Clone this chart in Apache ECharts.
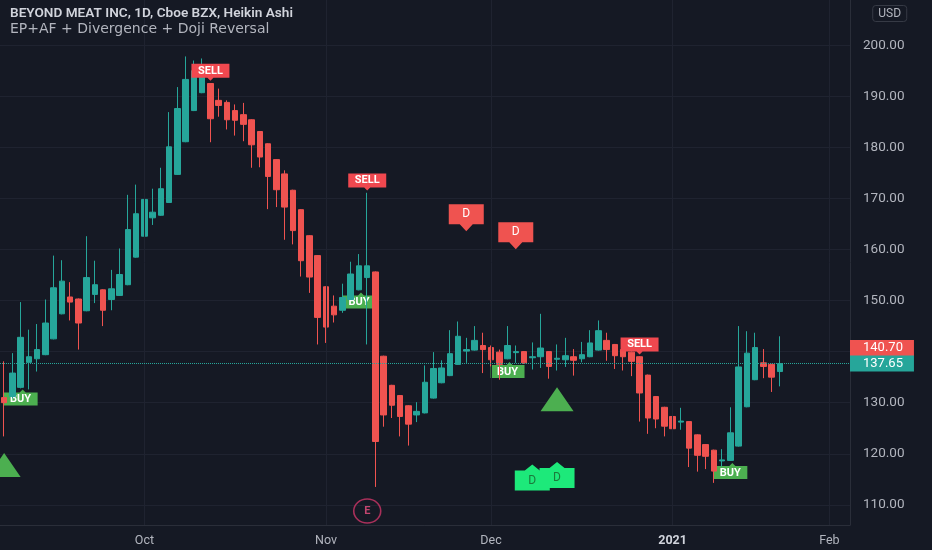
<!DOCTYPE html>
<html>
<head>
<meta charset="utf-8">
<script src="https://cdn.jsdelivr.net/npm/echarts@6/dist/echarts.min.js"></script>
<style>
html,body{margin:0;padding:0;background:#151924;}
#c{width:932px;height:550px;}
</style>
</head>
<body>
<div id="c"></div>
<script>
// ---------- data ----------
const dates = [
'2020-09-08','2020-09-09','2020-09-10','2020-09-11','2020-09-14','2020-09-15','2020-09-16','2020-09-17','2020-09-18',
'2020-09-21','2020-09-22','2020-09-23','2020-09-24','2020-09-25','2020-09-28','2020-09-29','2020-09-30',
'2020-10-01','2020-10-02','2020-10-05','2020-10-06','2020-10-07','2020-10-08','2020-10-09','2020-10-12','2020-10-13',
'2020-10-14','2020-10-15','2020-10-16','2020-10-19','2020-10-20','2020-10-21','2020-10-22','2020-10-23','2020-10-26',
'2020-10-27','2020-10-28','2020-10-29','2020-10-30',
'2020-11-02','2020-11-03','2020-11-04','2020-11-05','2020-11-06','2020-11-09','2020-11-10','2020-11-11','2020-11-12',
'2020-11-13','2020-11-16','2020-11-17','2020-11-18','2020-11-19','2020-11-20','2020-11-23','2020-11-24','2020-11-25',
'2020-11-27','2020-11-30',
'2020-12-01','2020-12-02','2020-12-03','2020-12-04','2020-12-07','2020-12-08','2020-12-09','2020-12-10','2020-12-11',
'2020-12-14','2020-12-15','2020-12-16','2020-12-17','2020-12-18','2020-12-21','2020-12-22','2020-12-23','2020-12-24',
'2020-12-28','2020-12-29','2020-12-30','2020-12-31',
'2021-01-04','2021-01-05','2021-01-06','2021-01-07','2021-01-08','2021-01-11','2021-01-12','2021-01-13','2021-01-14',
'2021-01-15','2021-01-19','2021-01-20','2021-01-21','2021-01-22',
'2021-01-25','2021-01-26','2021-01-27','2021-01-28','2021-01-29','2021-02-01','2021-02-02','2021-02-03'
];
const opens = [
131.0,131.2,133.0,137.9,138.6,139.4,142.5,147.4,150.7,150.3,148.0,151.2,152.1,150.2,151.0,153.1,158.5,162.6,166.2,166.7,
169.2,174.7,181.1,187.2,190.7,192.5,189.2,188.8,187.2,186.4,185.4,183.1,180.7,177.6,174.8,171.6,167.8,162.7,158.8,152.7,
148.9,148.1,150.2,152.1,154.5,155.6,139.1,133.4,131.4,129.4,127.6,128.0,130.9,133.9,135.3,137.5,140.1,140.3,141.2,140.8,
139.9,138.6,139.8,140.0,138.8,139.0,140.0,138.5,138.4,139.0,138.6,139.0,140.3,142.2,141.4,140.4,139.9,139.0,135.4,131.2,
129.1,127.3,126.2,126.3,123.7,121.8,120.7,118.6,118.7,121.5,129.2,134.5,137.8,137.5,136.1
];
const closes = [
130.0,135.8,142.8,139.0,140.4,145.6,152.5,153.8,149.7,145.6,154.5,153.1,148.1,152.3,155.1,163.9,167.0,169.8,167.3,171.9,
180.1,187.6,193.3,195.0,194.6,185.6,188.2,185.4,185.3,184.5,180.5,178.1,174.3,171.7,168.3,163.7,157.8,154.6,146.7,144.8,
147.2,150.6,155.2,156.8,156.8,122.4,127.6,129.5,127.3,125.8,128.3,134.0,136.7,136.8,139.6,143.0,140.4,142.2,140.4,138.4,
137.5,141.2,140.0,137.8,139.0,140.7,137.1,138.7,139.2,138.3,139.4,141.7,144.1,140.4,139.2,139.0,138.1,131.9,127.0,126.8,
125.4,124.9,126.4,121.1,119.7,119.5,116.6,118.8,124.1,137.0,139.7,140.8,137.1,135.0,137.65
];
const lows = [
123.4,130.8,132.8,132.6,136.1,139.3,142.4,147.3,146.1,140.4,147.9,149.5,145.0,148.1,150.9,153.0,158.4,162.5,164.8,166.6,
169.1,174.6,181.0,187.1,190.6,181.0,186.0,183.5,182.3,181.2,176.0,176.1,167.9,168.3,161.9,161.0,154.7,151.5,141.4,141.7,
145.7,147.6,150.1,152.0,141.4,113.5,125.3,127.0,123.4,121.6,126.2,127.9,130.8,133.8,135.2,137.4,137.8,140.2,135.8,137.1,
134.5,138.5,137.8,137.6,136.5,136.8,134.7,136.3,137.0,135.3,137.9,138.9,140.2,138.2,136.6,136.3,135.2,126.3,123.9,125.0,
123.4,121.8,124.7,117.4,116.5,117.0,114.3,117.5,118.6,121.4,129.1,134.4,134.8,132.1,133.2
];
const highs = [
138.1,139.7,149.7,144.3,145.4,150.2,158.8,157.9,153.6,150.4,162.6,157.8,152.2,156.0,160.2,170.7,172.7,172.8,171.9,176.0,
186.9,191.8,197.8,197.0,197.4,192.6,191.5,189.2,188.4,188.7,185.5,183.2,180.8,177.7,175.5,171.7,167.9,162.8,158.9,152.8,
151.0,153.3,157.6,159.1,171.1,155.7,139.2,133.5,131.5,129.5,130.1,137.3,139.9,138.3,144.2,145.9,142.7,145.0,143.7,141.2,
140.4,145.0,141.2,140.1,141.8,147.4,140.1,141.4,142.7,140.5,141.9,144.2,146.1,143.7,141.5,140.5,140.0,139.1,135.5,131.3,
129.2,127.4,129.0,126.4,123.8,121.9,120.8,120.9,129.1,145.0,144.0,143.7,140.5,137.6,143.0
];
const priceTicks = [110,120,130,140,150,160,170,180,190,200];
const monthDates = ['2020-10-01','2020-11-02','2020-12-01','2021-01-04','2021-02-01'];
const monthTexts = ['Oct','Nov','Dec','2021','Feb'];
const lastPrice = 137.65;
const indicatorPrice = 140.70;

const sellDates = ['2020-10-13','2020-11-09','2020-12-28'];
const sellPrices = [194.7,173.2,141.1];
const buyDates = ['2020-09-10','2020-11-06','2020-12-03','2021-01-13'];
const buyPrices = [131.0,150.0,136.4,116.6];
const bearDivDates = ['2020-11-25','2020-12-04'];
const bearDivPrices = [166.2,162.7];
const bullDivDates = ['2020-12-08','2020-12-11'];
const bullDivPrices = [115.35,115.85];
const dojiUpDates = ['2020-09-08','2020-12-11'];
const dojiUpPrices = [117.8,130.65];
const earningsDates = ['2020-11-09'];
const earningsPrices = [108.8];

// ---------- build ----------
const ohlc = dates.slice(0, opens.length).map((d, i) => [opens[i], closes[i], lows[i], highs[i]]);
const monthMap = {};
monthDates.forEach((d, i) => { monthMap[d] = monthTexts[i]; });
const pts = (ds, ps) => ds.map((d, i) => [d, ps[i]]);

const GRID = '#1f2330';
const TXT = '#b2b5be';
const UP = '#26a69a';
const DOWN = '#ef5350';
const FONT = 'Roboto, "Noto Sans", sans-serif';

const pathLabelDown = 'path://M0,0 H38 V14 H22 L19,17 L16,14 H0 Z';
const pathLabelUp = 'path://M0,3 H16 L19,0 L22,3 H34 V16 H0 Z';
const pathDDown = 'path://M0,0 H35 V20 H24 L17.5,27 L11,20 H0 Z';
const pathDUp = 'path://M0,6 L10,6 L17.5,0 L25,6 L35,6 V26 H0 Z';

const priceLabel = (txt, bg) => ({
  show: true, position: 'end', distance: 0, formatter: txt, backgroundColor: bg, color: '#fff',
  padding: [2, 11, 1, 13], fontSize: 13, fontFamily: FONT
});

const chart = echarts.init(document.getElementById('c'), null, {renderer: 'canvas'});
chart.setOption({
  animation: false,
  backgroundColor: '#151924',
  textStyle: {fontFamily: FONT},
  title: [
    {text: 'BEYOND MEAT INC, 1D, Cboe BZX, Heikin Ashi', left: 10, top: 7, padding: 0,
     textStyle: {color: '#d1d4dc', fontSize: 13.6, fontWeight: 600, fontFamily: FONT}},
    {text: 'EP+AF + Divergence + Doji Reversal', left: 10, top: 22, padding: 0,
     textStyle: {color: TXT, fontSize: 14, fontWeight: 400, fontFamily: '"DejaVu Sans", sans-serif'}},
    {text: 'USD', right: 25, top: 5, padding: [3, 6, 2, 6], borderColor: '#363a45', borderWidth: 1, borderRadius: 3,
     textStyle: {color: TXT, fontSize: 12, fontWeight: 400, fontFamily: FONT}}
  ],
  grid: {left: 0, right: 82, top: 0, bottom: 25},
  xAxis: {
    type: 'category', data: dates, boundaryGap: true,
    axisLine: {show: true, lineStyle: {color: '#2a2e39'}},
    axisTick: {show: false},
    splitLine: {show: false},
    axisLabel: {
      interval: (i, v) => monthMap[v] !== undefined,
      formatter: v => monthMap[v] === '2021' ? '{b|2021}' : (monthMap[v] || ''),
      color: TXT, fontSize: 12.5, margin: 9, fontFamily: FONT,
      rich: {b: {fontWeight: 'bold', color: '#d1d4dc', fontSize: 12.5, fontFamily: FONT}}
    }
  },
  yAxis: {
    type: 'value', position: 'right', min: 106.05, max: 208.85,
    axisLine: {show: true, lineStyle: {color: '#2a2e39'}},
    axisTick: {show: false, customValues: priceTicks},
    axisLabel: {customValues: priceTicks, formatter: v => v.toFixed(2), color: TXT, fontSize: 13.5, margin: 13, fontFamily: FONT},
    splitLine: {show: true, lineStyle: {color: GRID, width: 1}}
  },
  series: [
    {
      type: 'scatter', name: 'buy', z: 1,
      data: pts(buyDates, buyPrices),
      symbol: pathLabelUp, symbolSize: [34, 16], symbolKeepAspect: false,
      itemStyle: {color: '#4caf50', opacity: 1},
      label: {show: true, position: 'inside', formatter: 'BUY', color: '#fff', fontSize: 11, fontWeight: 'bold', offset: [0, 2], fontFamily: FONT},
      markLine: {
        silent: true, symbol: 'none', animation: false,
        lineStyle: {color: GRID, type: 'solid', width: 1},
        label: {show: false},
        data: monthDates.map(d => ({xAxis: d}))
      }
    },
    {
      type: 'candlestick', name: 'HA', z: 2,
      data: ohlc, barWidth: 6,
      itemStyle: {color: UP, color0: DOWN, borderColor: UP, borderColor0: DOWN, borderWidth: 1},
      markLine: {
        silent: true, symbol: 'none', animation: false,
        data: [
          {yAxis: indicatorPrice, lineStyle: {color: 'rgba(0,0,0,0)', width: 0},
           label: priceLabel(indicatorPrice.toFixed(2), DOWN)},
          {yAxis: lastPrice, lineStyle: {color: UP, type: 'dotted', width: 1},
           label: priceLabel(lastPrice.toFixed(2), UP)}
        ]
      }
    },
    {
      type: 'scatter', name: 'sell', z: 3,
      data: pts(sellDates, sellPrices),
      symbol: pathLabelDown, symbolSize: [38, 17], symbolKeepAspect: false,
      itemStyle: {color: '#f0484f', opacity: 1},
      label: {show: true, position: 'inside', formatter: 'SELL', color: '#fff', fontSize: 11, fontWeight: 'bold', offset: [0, -1.5], fontFamily: FONT}
    },
    {
      type: 'scatter', name: 'bearDiv', z: 3,
      data: pts(bearDivDates, bearDivPrices),
      symbol: pathDDown, symbolSize: [35, 27], symbolKeepAspect: false,
      itemStyle: {color: '#ef5350', opacity: 1},
      label: {show: true, position: 'inside', formatter: 'D', color: '#fff', fontSize: 12, offset: [0, -3.5], fontFamily: FONT}
    },
    {
      type: 'scatter', name: 'bullDiv', z: 3,
      data: pts(bullDivDates, bullDivPrices),
      symbol: pathDUp, symbolSize: [35, 26], symbolKeepAspect: false,
      itemStyle: {color: '#1de97a', opacity: 1},
      label: {show: true, position: 'inside', formatter: 'D', color: '#1b7a3c', fontSize: 12, offset: [0, 3], fontFamily: FONT}
    },
    {
      type: 'scatter', name: 'dojiUp', z: 3,
      data: pts(dojiUpDates, dojiUpPrices),
      symbol: 'triangle', symbolSize: [33, 24], symbolKeepAspect: false,
      itemStyle: {color: '#4caf50', opacity: 1}
    },
    {
      type: 'scatter', name: 'earnings', z: 3,
      data: pts(earningsDates, earningsPrices),
      symbol: 'circle', symbolSize: [27, 24], symbolKeepAspect: false,
      itemStyle: {color: 'rgba(0,0,0,0)', borderColor: '#a8305a', borderWidth: 1.5, opacity: 1},
      label: {show: true, position: 'inside', formatter: 'E', color: '#c2456e', fontSize: 11, fontWeight: 'bold', fontFamily: FONT}
    }
  ]
});
</script>
</body>
</html>
